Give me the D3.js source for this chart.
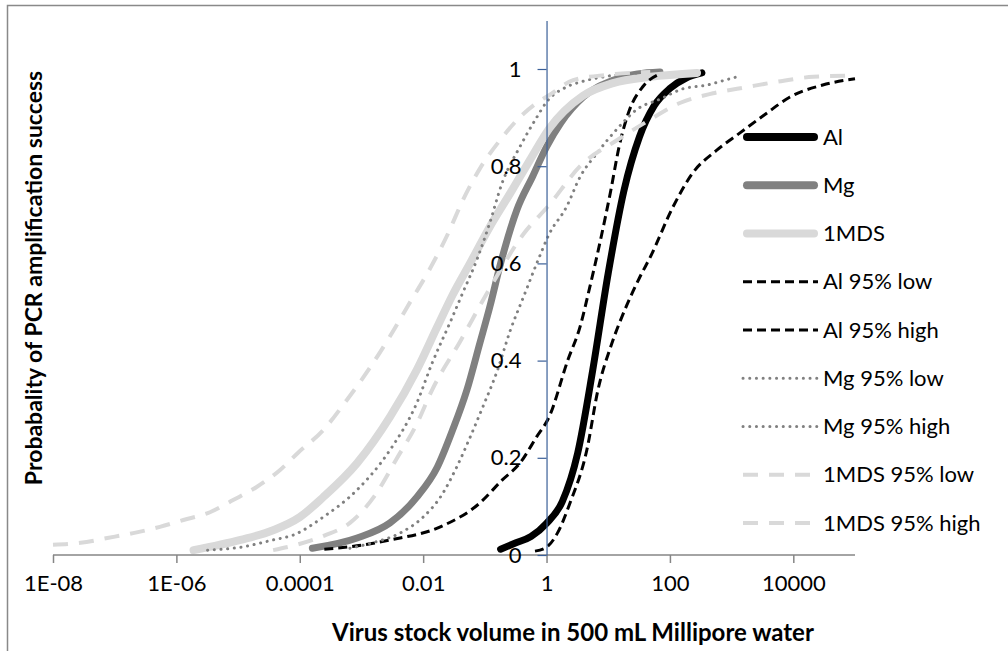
<!DOCTYPE html>
<html>
<head>
<meta charset="utf-8">
<script src="https://cdn.jsdelivr.net/npm/d3@7"></script>
<style>
  body { margin: 0; background: #fff; }
  text { font-family: Lato, "Open Sans", sans-serif; fill: #000; }
</style>
</head>
<body>
<svg id="chart" width="1008" height="651"></svg>
<script>
// values (x = virus stock volume, p = probability)
const alX = [0.18, 0.32, 0.56, 1, 1.8, 3.2, 5.6, 10, 18, 32, 56, 100, 180, 330];
const alP = [0.012, 0.025, 0.038, 0.065, 0.11, 0.21, 0.38, 0.58, 0.75, 0.86, 0.925, 0.96, 0.981, 0.992];

const mgX = [1.6e-4, 8.5e-4, 2.9e-3, 7.9e-3, 0.017, 0.030, 0.051, 0.083, 0.12, 0.18, 0.33, 0.60, 1.0, 1.7, 3.9, 12, 30, 69];
const mgP = [0.014, 0.035, 0.066, 0.119, 0.181, 0.257, 0.339, 0.436, 0.51, 0.60, 0.71, 0.78, 0.84, 0.889, 0.942, 0.977, 0.99, 0.994];

const mdsX = [1.9e-6, 1.1e-5, 3.7e-5, 1.0e-4, 2.4e-4, 8.5e-4, 2.9e-3, 7.9e-3, 0.017, 0.030, 0.058, 0.12, 0.26, 0.54, 1.1, 3.9, 12, 48, 275];
const mdsP = [0.010, 0.031, 0.051, 0.078, 0.119, 0.189, 0.284, 0.381, 0.47, 0.535, 0.601, 0.675, 0.745, 0.813, 0.877, 0.945, 0.971, 0.984, 0.992];

const alLowX = [2.5e-4, 1e-3, 2.9e-3, 0.019, 0.083, 0.19, 0.37, 0.69, 1.1, 2.2, 3.5, 5.0, 7.4, 11, 15, 22, 36, 69];
const alLowP = [0.012, 0.02, 0.031, 0.058, 0.107, 0.154, 0.189, 0.243, 0.284, 0.40, 0.47, 0.55, 0.645, 0.75, 0.84, 0.915, 0.963, 0.99];

const alHighX = [0.65, 1.0, 1.5, 2.4, 4.5, 6.8, 11.5, 20, 32, 48, 112, 234, 575, 1350, 3700, 8700, 30000, 100000];
const alHighP = [0.008, 0.016, 0.045, 0.107, 0.216, 0.339, 0.436, 0.514, 0.57, 0.613, 0.716, 0.786, 0.833, 0.868, 0.909, 0.942, 0.967, 0.98];

const mgLowX = [3.2e-6, 1.1e-5, 3.7e-5, 7.8e-5, 2.4e-4, 8.5e-4, 2.9e-3, 7.9e-3, 0.014, 0.027, 0.044, 0.074, 0.12, 0.19, 0.37, 0.69, 1.0, 2.1, 3.5, 9.5, 40];
const mgLowP = [0.010, 0.016, 0.031, 0.041, 0.078, 0.134, 0.216, 0.313, 0.395, 0.477, 0.54, 0.607, 0.683, 0.765, 0.84, 0.90, 0.932, 0.963, 0.973, 0.985, 0.993];

const mgHighX = [6.5e-4, 1.5e-3, 4.2e-3, 0.010, 0.019, 0.035, 0.058, 0.093, 0.16, 0.26, 0.42, 0.72, 1.1, 2.1, 3.5, 6.6, 14, 30, 69, 160, 400, 830, 1230];
const mgHighP = [0.014, 0.025, 0.045, 0.078, 0.119, 0.181, 0.243, 0.305, 0.38, 0.463, 0.53, 0.605, 0.66, 0.716, 0.778, 0.827, 0.877, 0.918, 0.938, 0.959, 0.967, 0.978, 0.984];

const mdsLowX = [1e-8, 2.8e-8, 7.6e-8, 2.0e-7, 5.4e-7, 1.3e-6, 3.5e-6, 8.3e-6, 2.0e-5, 4.8e-5, 9.3e-5, 2.4e-4, 5.8e-4, 1.4e-3, 2.9e-3, 5.5e-3, 0.013, 0.025, 0.044, 0.083, 0.18, 0.37, 0.69, 1.1, 2.7, 9.5, 48];
const mdsLowP = [0.021, 0.025, 0.035, 0.045, 0.058, 0.072, 0.088, 0.113, 0.14, 0.175, 0.21, 0.257, 0.319, 0.387, 0.45, 0.51, 0.59, 0.66, 0.73, 0.795, 0.855, 0.901, 0.93, 0.946, 0.977, 0.988, 0.994];

const mdsHighX = [3.7e-5, 8.9e-5, 2.5e-4, 6.5e-4, 1.6e-3, 3.8e-3, 7.9e-3, 0.014, 0.040, 0.11, 0.42, 1.1, 3.5, 14, 40, 145, 500, 1800, 6300, 21000, 69000];
const mdsHighP = [0.010, 0.021, 0.040, 0.066, 0.12, 0.20, 0.27, 0.34, 0.44, 0.54, 0.66, 0.72, 0.80, 0.854, 0.89, 0.93, 0.95, 0.963, 0.975, 0.984, 0.986];

const xTicks = [1e-8, 1e-6, 1e-4, 1e-2, 1, 100, 10000];
const xTickLabels = ["1E-08", "1E-06", "0.0001", "0.01", "1", "100", "10000"];
const yTicks = [0, 0.2, 0.4, 0.6, 0.8, 1];
const yTickLabels = ["0", "0.2", "0.4", "0.6", "0.8", "1"];

const thick = { width: 7, dash: null, cap: "round" };
const series = [
  { name: "Al", xs: alX, ps: alP, color: "#000000", ...thick },
  { name: "Mg", xs: mgX, ps: mgP, color: "#808080", ...thick },
  { name: "1MDS", xs: mdsX, ps: mdsP, color: "#d9d9d9", width: 8, dash: null, cap: "round" },
  { name: "Al 95% low", xs: alLowX, ps: alLowP, color: "#000000", width: 3, dash: "9,5", cap: "butt" },
  { name: "Al 95% high", xs: alHighX, ps: alHighP, color: "#000000", width: 3, dash: "9,5", cap: "butt" },
  { name: "Mg 95% low", xs: mgLowX, ps: mgLowP, color: "#808080", width: 3, dash: "0.1,6.6", cap: "round" },
  { name: "Mg 95% high", xs: mgHighX, ps: mgHighP, color: "#808080", width: 3, dash: "0.1,6.6", cap: "round" },
  { name: "1MDS 95% low", xs: mdsLowX, ps: mdsLowP, color: "#d9d9d9", width: 4, dash: "15,11", cap: "butt" },
  { name: "1MDS 95% high", xs: mdsHighX, ps: mdsHighP, color: "#d9d9d9", width: 4, dash: "15,11", cap: "butt" }
];

const svg = d3.select("#chart");

// chart area border (cut off on right / bottom like the original)
svg.append("rect")
    .attr("x", 7.5).attr("y", 5.5)
    .attr("width", 1010).attr("height", 660)
    .attr("fill", "#fff").attr("stroke", "#898989").attr("stroke-width", 1.5);

const x = d3.scaleLog().domain([1e-8, 1e5]).range([53, 855]);
const y = d3.scaleLinear().domain([0, 1.1]).range([555, 555 - 1.1 * 486]);

const line = d3.line()
    .x(d => x(d[0]))
    .y(d => y(d[1]))
    .curve(d3.curveMonotoneX);

svg.append("g").selectAll("path")
    .data(series)
  .enter().append("path")
    .attr("d", s => line(s.xs.map((v, i) => [v, s.ps[i]])))
    .attr("fill", "none")
    .attr("stroke", s => s.color)
    .attr("stroke-width", s => s.width)
    .attr("stroke-dasharray", s => s.dash)
    .attr("stroke-linecap", s => s.cap)
    .attr("stroke-linejoin", "round");

// x axis
const xAxis = svg.append("g")
    .attr("transform", "translate(0," + y(0) + ")")
    .call(d3.axisBottom(x)
      .tickValues(xTicks)
      .tickFormat((d, i) => xTickLabels[i])
      .tickSizeInner(8).tickSizeOuter(0).tickPadding(12));
xAxis.select(".domain").attr("stroke", "#868686").attr("stroke-width", 1.5)
    .attr("d", "M" + x(1e-8) + ",0H" + x(1e5));
xAxis.selectAll(".tick line").attr("stroke", "#868686").attr("stroke-width", 1.5);
xAxis.selectAll(".tick text").attr("font-family", "Lato").attr("font-size", 22);

// y axis, crossing at x = 1
const yAxis = svg.append("g")
    .attr("transform", "translate(" + x(1) + ",0)")
    .call(d3.axisLeft(y)
      .tickValues(yTicks)
      .tickFormat((d, i) => yTickLabels[i])
      .tickSizeInner(9).tickSizeOuter(0).tickPadding(16));
yAxis.select(".domain").attr("stroke", "#3a5f98").attr("stroke-width", 1.2);
yAxis.selectAll(".tick line").attr("stroke", "#3a5f98").attr("stroke-width", 1.2);
yAxis.selectAll(".tick text").attr("font-family", "Lato").attr("font-size", 22);

// axis titles
svg.append("text")
    .attr("x", 573).attr("y", 641)
    .attr("text-anchor", "middle")
    .attr("font-weight", "bold").attr("font-size", 24)
    .text("Virus stock volume in 500 mL Millipore water");

svg.append("text")
    .attr("transform", "translate(42,278)rotate(-90)")
    .attr("text-anchor", "middle")
    .attr("font-weight", "bold").attr("font-size", 23)
    .text("Probabality of PCR amplification success");

// legend
const legend = svg.append("g").selectAll("g")
    .data(series)
  .enter().append("g")
    .attr("transform", (d, i) => "translate(0," + (137 + i * 48.25) + ")");
legend.append("line")
    .attr("x1", s => s.cap === "round" && !s.dash ? 747 : 743)
    .attr("x2", s => s.cap === "round" && !s.dash ? 814 : 818)
    .attr("stroke", s => s.color)
    .attr("stroke-width", s => s.dash ? s.width : 8)
    .attr("stroke-dasharray", s => s.dash)
    .attr("stroke-linecap", s => s.cap);
legend.append("text")
    .attr("x", 823).attr("dy", "0.35em")
    .attr("font-size", 22)
    .text(s => s.name);
</script>
</body>
</html>
